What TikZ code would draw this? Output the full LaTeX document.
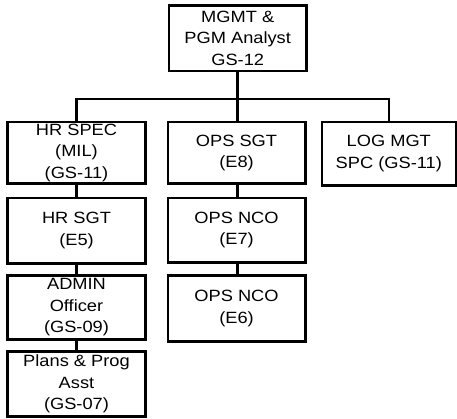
\documentclass[tikz,border=0pt]{standalone}
\usepackage{fontspec}
\setmainfont{Liberation Sans}[FakeStretch=1.12]
\begin{document}
\begin{tikzpicture}[x=1pt,y=-1pt,
  box/.style={draw=black,line width=2.6pt,inner sep=0pt,align=center,
    font=\fontsize{16.3}{21.5}\selectfont,text=black},
  conn/.style={draw=black,line width=2.6pt}]
\useasboundingbox (0,0) rectangle (457,418);
% top position
\node[box,minimum width=137.3pt,minimum height=65.3pt] (top) at (237.7,38.3) {MGMT \&\\PGM Analyst\\GS-12};
% second row
\node[box,minimum width=137.8pt,minimum height=61.7pt] (hrspec) at (76.5,152.8) {HR SPEC\\(MIL)\\(GS-11)};
\node[box,minimum width=137.4pt,minimum height=61.7pt] (opssgt) at (236.5,152.8) {OPS SGT\\(E8)};
\node[box,minimum width=134pt,minimum height=63.3pt] (log) at (388.8,153.6) {LOG MGT\\SPC (GS-11)};
% left column
\node[box,minimum width=137.8pt,minimum height=65.3pt] (hrsgt) at (76.5,230.7) {HR SGT\\(E5)};
\node[box,minimum width=137.8pt,minimum height=64pt] (admin) at (76.5,307.3) {ADMIN\\Officer\\(GS-09)};
\node[box,minimum width=137.8pt,minimum height=65.2pt] (plans) at (76.5,383.9) {Plans \& Prog\\Asst\\(GS-07)};
% middle column
\node[box,minimum width=137.4pt,minimum height=64.2pt] (ops7) at (236.5,230.1) {OPS NCO\\(E7)};
\node[box,minimum width=137.4pt,minimum height=66.2pt] (ops6) at (236.5,308.4) {OPS NCO\\(E6)};
% connectors
\coordinate (bus) at (237.7,99);
\draw[conn] (top.south) -- (bus);
\draw[conn] (hrspec.north) |- (bus) -| (log.north);
\draw[conn] (bus) -- (bus |- opssgt.north);
\draw[conn] (hrspec.south) -- (hrsgt.north);
\draw[conn] (hrsgt.south) -- (admin.north);
\draw[conn] (admin.south) -- (plans.north);
\draw[conn] (opssgt.south -| bus) -- (ops7.north -| bus);
\draw[conn] (ops7.south -| bus) -- (ops6.north -| bus);
\end{tikzpicture}
\end{document}
